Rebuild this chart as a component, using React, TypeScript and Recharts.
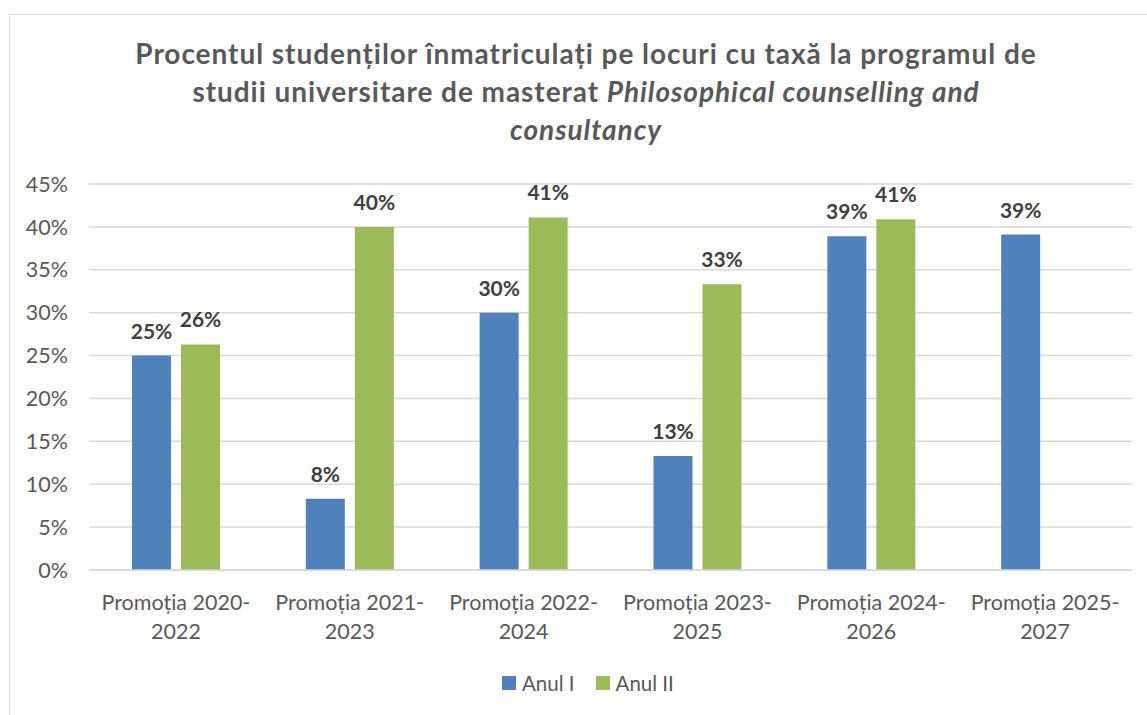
import React from "react";
import { BarChart, Bar, XAxis, YAxis, CartesianGrid, LabelList } from "recharts";

const categories = [
  "Promoția 2020-2022",
  "Promoția 2021-2023",
  "Promoția 2022-2024",
  "Promoția 2023-2025",
  "Promoția 2024-2026",
  "Promoția 2025-2027",
];
const anulI = [25, 8.3, 30, 13.3, 38.9, 39.1];
const anulII: (number | null)[] = [26.3, 40, 41.1, 33.3, 40.9, null];
const yTicks = [0, 5, 10, 15, 20, 25, 30, 35, 40, 45];

const BLUE = "#4f81bd";
const GREEN = "#9bbb59";
const FONT = "Lato, 'Open Sans', sans-serif";

const data = categories.map((name, i) => ({ name, anulI: anulI[i], anulII: anulII[i] }));

function CategoryTick({ x, y, payload }: any) {
  const label: string = payload.value;
  const cut = label.indexOf("-");
  const first = label.slice(0, cut + 1);
  const second = label.slice(cut + 1);
  return (
    <g transform={`translate(${x},${y})`}>
      <text textAnchor="middle" fill="#595959" fontSize={21.5} fontFamily={FONT}>
        <tspan x={0} dy={32}>{first}</tspan>
        <tspan x={0} dy={29}>{second}</tspan>
      </text>
    </g>
  );
}

const pct = (v: any) => (v == null ? "" : `${Math.round(v)}%`);

export default function App() {
  return (
    <div style={{ position: "absolute", left: 0, top: 0, width: 1147, height: 715, background: "#fff", overflow: "hidden", fontFamily: FONT }}>
      <div
        style={{
          position: "absolute",
          left: 9,
          top: 14,
          width: 1150,
          height: 720,
          border: "1px solid #d9d9d9",
          boxSizing: "border-box",
        }}
      />
      <svg width={1147} height={160} style={{ position: "absolute", left: 0, top: 0 }}>
        <text textAnchor="middle" fill="#595959" fontSize={28} fontWeight="bold" fontFamily={FONT} letterSpacing={0.95}>
          <tspan x={586} y={64}>Procentul studenților înmatriculați pe locuri cu taxă la programul de</tspan>
          <tspan x={586} y={102}>
            studii universitare de masterat <tspan fontStyle="italic">Philosophical counselling and</tspan>
          </tspan>
          <tspan x={586} y={140} fontStyle="italic">consultancy</tspan>
        </text>
      </svg>
      <div style={{ position: "absolute", left: 0, top: 0 }}>
        <BarChart
          width={1147}
          height={715}
          data={data}
          margin={{ top: 184, right: 15, left: 9, bottom: 85 }}
          barSize={39}
          barGap={10}
        >
          <CartesianGrid vertical={false} stroke="#d9d9d9" strokeWidth={1.5} />
          <XAxis
            dataKey="name"
            axisLine={{ stroke: "#d9d9d9", strokeWidth: 1.5 }}
            tickLine={false}
            tick={<CategoryTick />}
            height={60}
            interval={0}
          />
          <YAxis
            domain={[0, 45]}
            ticks={yTicks}
            axisLine={false}
            tickLine={false}
            width={80}
            tickFormatter={(v) => `${v}%`}
            tick={{ fill: "#595959", fontSize: 21.5, fontFamily: FONT }}
            tickMargin={15}
          />
          <Bar dataKey="anulI" name="Anul I" fill={BLUE} isAnimationActive={false}>
            <LabelList
              dataKey="anulI"
              position="top"
              offset={17}
              formatter={pct}
              fill="#404040"
              fontSize={21}
              fontWeight="bold"
              fontFamily={FONT}
            />
          </Bar>
          <Bar dataKey="anulII" name="Anul II" fill={GREEN} isAnimationActive={false}>
            <LabelList
              dataKey="anulII"
              position="top"
              offset={17}
              formatter={pct}
              fill="#404040"
              fontSize={21}
              fontWeight="bold"
              fontFamily={FONT}
            />
          </Bar>
        </BarChart>
      </div>
      <div
        style={{
          position: "absolute",
          left: 502,
          top: 671,
          display: "flex",
          alignItems: "center",
          gap: 21,
          fontSize: 20.5,
          color: "#595959",
        }}
      >
        <span style={{ display: "flex", alignItems: "center", gap: 6 }}>
          <span style={{ width: 14, height: 14, background: BLUE, display: "inline-block" }} />
          Anul I
        </span>
        <span style={{ display: "flex", alignItems: "center", gap: 6 }}>
          <span style={{ width: 14, height: 14, background: GREEN, display: "inline-block" }} />
          Anul II
        </span>
      </div>
    </div>
  );
}
